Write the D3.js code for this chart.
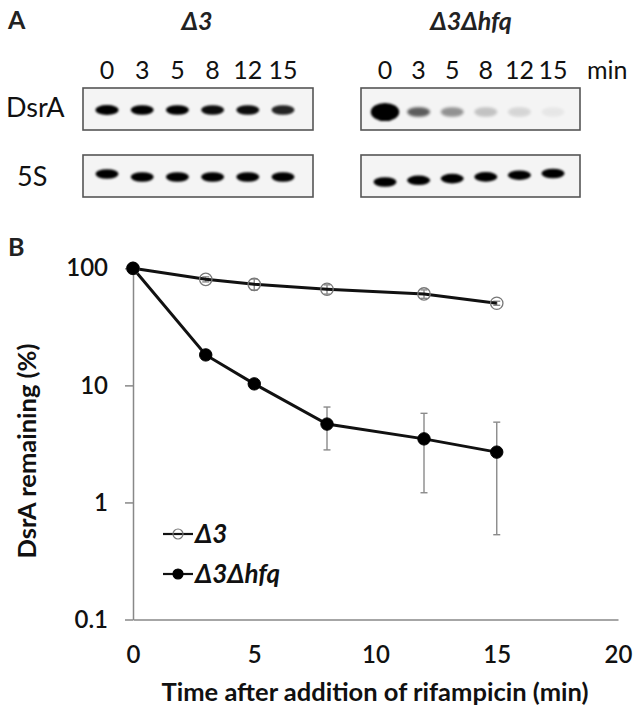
<!DOCTYPE html>
<html><head><meta charset="utf-8">
<script src="https://cdn.jsdelivr.net/npm/d3@7"></script>
<style>
body{margin:0;background:#fff;}
svg{display:block;font-family:Lato,"Open Sans",sans-serif;}
</style></head>
<body>
<svg id="c" width="642" height="715"></svg>
<script>
// ---------- DATA ----------
const laneTimes = ["0","3","5","8","12","15"];
// relative band signals (northern blot)
const blotD3_DsrA  = [1.1, 1.0, 1.0, 0.95, 0.95, 0.85];
const blotHfq_DsrA = [3.0, 0.62, 0.4, 0.2, 0.12, 0.05];
const blotD3_5S    = [1.0, 1.0, 1.0, 1.0, 1.0, 1.0];
const blotHfq_5S   = [1.0, 1.0, 1.0, 1.0, 1.0, 1.0];

const timePoints = [0, 3, 5, 8, 12, 15];
const d3Remaining   = [100, 80.5, 73, 66.2, 60.4, 50.3];
const d3Err         = [0, 4, 8, 6, 5, 2];
const hfqRemaining  = [100, 18.2, 10.3, 4.67, 3.49, 2.69];
const hfqErr        = [0, 1.0, 0.6, 1.86, 2.28, 2.16];

const xTicks = [0, 5, 10, 15, 20];
const yTicks = [0.1, 1, 10, 100];
const yTickLabels = ["0.1", "1", "10", "100"];

// ---------- CHART ----------
const svg = d3.select("#c");
svg.append("rect").attr("width",642).attr("height",715).attr("fill","#fff");

const defs = svg.append("defs");
defs.append("filter").attr("id","blur").attr("x","-50%").attr("y","-50%").attr("width","200%").attr("height","200%")
  .append("feGaussianBlur").attr("stdDeviation",1.3);
defs.append("filter").attr("id","blur2").attr("x","-50%").attr("y","-50%").attr("width","200%").attr("height","200%")
  .append("feGaussianBlur").attr("stdDeviation",1.8);

// Panel labels
svg.append("text").attr("x",8).attr("y",29).attr("font-size",25).attr("font-weight","bold").attr("fill","#222").text("A");
svg.append("text").attr("x",8).attr("y",256).attr("font-size",25).attr("font-weight","bold").attr("fill","#222").text("B");

// Blots
function blot(opts){
  const g = svg.append("g");
  const xs = d3.scalePoint().domain(laneTimes).range(opts.laneRange);
  g.append("text").attr("x",opts.titleX).attr("y",30).attr("text-anchor","middle")
    .attr("font-size",25).attr("font-weight","bold").attr("font-style","italic").attr("fill","#222")
    .text(opts.title);
  g.selectAll("text.lane").data(laneTimes).join("text").attr("class","lane")
    .attr("x",d=>xs(d)).attr("y",79).attr("text-anchor","middle").attr("font-size",25).attr("fill","#111").text(d=>d);
  const boxes = [{y:88,h:42,vals:opts.dsrA,by:opts.dsrAY},{y:155,h:42,vals:opts.s5,by:opts.s5Y}];
  boxes.forEach(b=>{
    g.append("rect").attr("x",opts.box[0]).attr("y",b.y).attr("width",opts.box[1]-opts.box[0]).attr("height",b.h)
      .attr("fill","#f4f4f4").attr("stroke","#555").attr("stroke-width",1.6);
    g.selectAll(null).data(b.vals).join("ellipse")
      .attr("cx",(d,i)=>xs(laneTimes[i]))
      .attr("cy",(d,i)=>b.by(i))
      .attr("rx",d=>11.5*(1+0.12*Math.max(0,d-1)))
      .attr("ry",d=>4.8*(1+0.45*Math.max(0,d-1)))
      .attr("fill","#050505")
      .attr("opacity",d=>Math.min(1,d))
      .attr("filter",d=>d<0.7?"url(#blur2)":"url(#blur)");
  });
}
blot({title:"Δ3", titleX:197, laneRange:[107,283], box:[83,313],
      dsrA:blotD3_DsrA, s5:blotD3_5S,
      dsrAY:i=>110, s5Y:i=> i===0?174:177});
blot({title:"Δ3Δhfq", titleX:471, laneRange:[385,553], box:[361,580],
      dsrA:blotHfq_DsrA, s5:blotHfq_5S,
      dsrAY:i=>112, s5Y:i=>182 - i*1.7});
svg.append("text").attr("x",587).attr("y",79).attr("font-size",25).attr("fill","#111").text("min");
svg.append("text").attr("x",6).attr("y",117).attr("font-size",27).attr("fill","#111").text("DsrA");
svg.append("text").attr("x",17).attr("y",186).attr("font-size",27).attr("fill","#111").text("5S");

// Panel B
const x = d3.scaleLinear().domain([0,20]).range([133,618]);
const y = d3.scaleLog().domain([0.1,100]).range([619.5,268.3]);
const axisCol = "#888";

const yAx = svg.append("g").attr("transform","translate(133,0)")
  .call(d3.axisLeft(y).tickValues(yTicks).tickFormat((d,i)=>yTickLabels[i]).tickSize(8).tickSizeOuter(0).tickPadding(17));
yAx.select(".domain").attr("stroke",axisCol).attr("stroke-width",1.5);
yAx.selectAll(".tick line").attr("stroke",axisCol).attr("stroke-width",1.5);
yAx.selectAll("text").attr("font-size",24).attr("font-family","Lato").attr("fill","#111").attr("font-weight",600);

const xAx = svg.append("g").attr("transform","translate(0,619.5)")
  .call(d3.axisBottom(x).tickValues(xTicks).tickSize(0).tickSizeOuter(0).tickPadding(26));
xAx.select(".domain").attr("stroke",axisCol).attr("stroke-width",1.5);
xAx.selectAll("text").attr("font-size",24).attr("font-family","Lato").attr("fill","#111").attr("font-weight",600);

svg.append("text").attr("x",375).attr("y",701).attr("text-anchor","middle").attr("font-size",25.5)
  .attr("font-weight","bold").attr("fill","#111").text("Time after addition of rifampicin (min)");
svg.append("text").attr("transform","translate(36,451) rotate(-90)").attr("text-anchor","middle").attr("font-size",25.5)
  .attr("font-weight","bold").attr("fill","#111").text("DsrA remaining (%)");

const series = [
  {vals:d3Remaining, err:d3Err, open:true},
  {vals:hfqRemaining, err:hfqErr, open:false}
];
series.forEach(s=>{
  const pts = timePoints.map((t,i)=>({t, v:s.vals[i], e:s.err[i]})).filter(p=>p.e>0);
  const eg = svg.append("g").attr("stroke","#8a8a8a").attr("stroke-width",1.4);
  pts.forEach(p=>{
    const y1=y(p.v+p.e), y2=y(Math.max(p.v-p.e,0.1001));
    eg.append("line").attr("x1",x(p.t)).attr("x2",x(p.t)).attr("y1",y1).attr("y2",y2);
    eg.append("line").attr("x1",x(p.t)-3.5).attr("x2",x(p.t)+3.5).attr("y1",y1).attr("y2",y1);
    eg.append("line").attr("x1",x(p.t)-3.5).attr("x2",x(p.t)+3.5).attr("y1",y2).attr("y2",y2);
  });
});
const line = d3.line().x(d=>x(d[0])).y(d=>y(d[1]));
series.forEach(s=>{
  svg.append("path").attr("d",line(timePoints.map((t,i)=>[t,s.vals[i]])))
    .attr("fill","none").attr("stroke","#111").attr("stroke-width",3);
});
series.forEach(s=>{
  svg.append("g").selectAll("circle").data(timePoints.map((t,i)=>[t,s.vals[i]])).join("circle")
    .attr("cx",d=>x(d[0])).attr("cy",d=>y(d[1])).attr("r",6.2)
    .attr("fill",s.open?"none":"#000").attr("stroke",s.open?"#777":"#000").attr("stroke-width",s.open?1.3:1);
});

// legend
const legend = [{label:"Δ3", open:true, y:534},{label:"Δ3Δhfq", open:false, y:574}];
legend.forEach(l=>{
  svg.append("line").attr("x1",163).attr("x2",193).attr("y1",l.y).attr("y2",l.y).attr("stroke","#111").attr("stroke-width",2.2);
  svg.append("circle").attr("cx",178).attr("cy",l.y).attr("r",5)
    .attr("fill",l.open?"none":"#000").attr("stroke",l.open?"#777":"#000").attr("stroke-width",1.2);
  svg.append("text").attr("x",195).attr("y",l.y+9).attr("font-size",26).attr("font-weight","bold")
    .attr("font-style","italic").attr("fill","#111").text(l.label);
});
</script>
</body></html>
